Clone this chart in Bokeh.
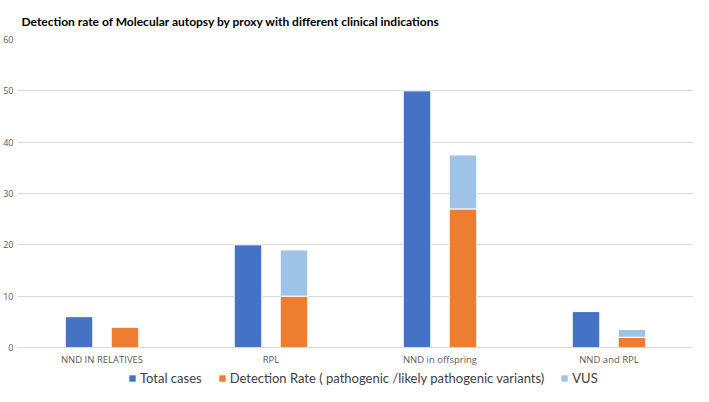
from bokeh.plotting import figure
from bokeh.layouts import column
from bokeh.models import ColumnDataSource, Legend, LegendItem, Title, Range1d, SingleIntervalTicker
from bokeh.transform import dodge
from bokeh.embed import file_html
from bokeh.resources import INLINE

categories = ["NND IN RELATIVES", "RPL", "NND in offspring", "NND and RPL"]
total_cases = [6, 20, 50, 7]
detection_rate = [4, 10, 27, 2]
vus = [0, 9, 10.5, 1.5]

series_labels = ["Total cases", "Detection Rate ( pathogenic /likely pathogenic variants)", "VUS"]
colors = ["#4472C4", "#ED7D31", "#9DC3E6"]

src = ColumnDataSource(dict(cat=categories, total=total_cases, det=detection_rate, vus=vus))

p = figure(x_range=categories, y_range=Range1d(0, 60), width=693, height=368,
           output_backend="svg", toolbar_location=None, title=None,
           min_border_left=0, min_border_right=0, min_border_top=0, min_border_bottom=0)
p.add_layout(Title(text="Detection rate of Molecular autopsy by proxy with different clinical indications",
                   text_font="Lato", text_font_size="12px", text_font_style="bold",
                   text_color="#000000", offset=4, standoff=22), "above")

p.vbar(x=dodge("cat", -0.136, range=p.x_range), top="total", width=0.163,
       source=src, fill_color=colors[0], line_color="#ffffff", line_width=1)
p.vbar_stack(["det", "vus"], x=dodge("cat", 0.136, range=p.x_range), width=0.163,
             source=src, fill_color=colors[1:], line_color="#ffffff", line_width=1)

p.outline_line_color = None
p.xgrid.grid_line_color = None
p.ygrid.grid_line_color = "#d9d9d9"
p.ygrid.grid_line_width = 1
p.yaxis.ticker = SingleIntervalTicker(interval=10)
for ax in (p.xaxis, p.yaxis):
    ax.major_tick_line_color = None
    ax.minor_tick_line_color = None
    ax.major_tick_out = 0
    ax.major_tick_in = 0
    ax.minor_tick_out = 0
    ax.axis_label_standoff = 0
    ax.major_label_text_color = "#595959"
    ax.major_label_text_font = "Open Sans"
p.yaxis.axis_line_color = None
p.yaxis.major_label_text_font_size = "9px"
p.yaxis.major_label_standoff = 4
p.xaxis.axis_line_color = "#d9d9d9"
p.xaxis.major_label_text_font_size = "9.5px"
p.xaxis.major_label_standoff = 5

# legend strip below the chart (zero-width bars: they only feed the legend swatches)
lg = figure(x_range=categories, y_range=Range1d(0, 1), width=693, height=18,
            output_backend="svg", toolbar_location=None, title=None,
            x_axis_location=None, y_axis_location=None,
            min_border_left=0, min_border_right=0, min_border_top=0, min_border_bottom=0)
lg.outline_line_color = None
lg.grid.grid_line_color = None
lr_total = lg.vbar(x="cat", top="total", width=0, source=src, fill_color=colors[0], line_color=None)
lr_det = lg.vbar(x="cat", top="det", width=0, source=src, fill_color=colors[1], line_color=None)
lr_vus = lg.vbar(x="cat", top="vus", width=0, source=src, fill_color=colors[2], line_color=None)
legend = Legend(items=[
    LegendItem(label=series_labels[0], renderers=[lr_total]),
    LegendItem(label=series_labels[1], renderers=[lr_det]),
    LegendItem(label=series_labels[2], renderers=[lr_vus]),
], orientation="horizontal", location=(111, 0), border_line_color=None,
    background_fill_alpha=0, padding=0, margin=0,
    label_text_font="Lato", label_text_font_size="13px", label_text_color="#404040",
    glyph_width=8, glyph_height=8, spacing=16, label_standoff=4)
lg.add_layout(legend, "center")

layout = column(p, lg, spacing=0)
open("out.html", "w").write(file_html(layout, INLINE))
